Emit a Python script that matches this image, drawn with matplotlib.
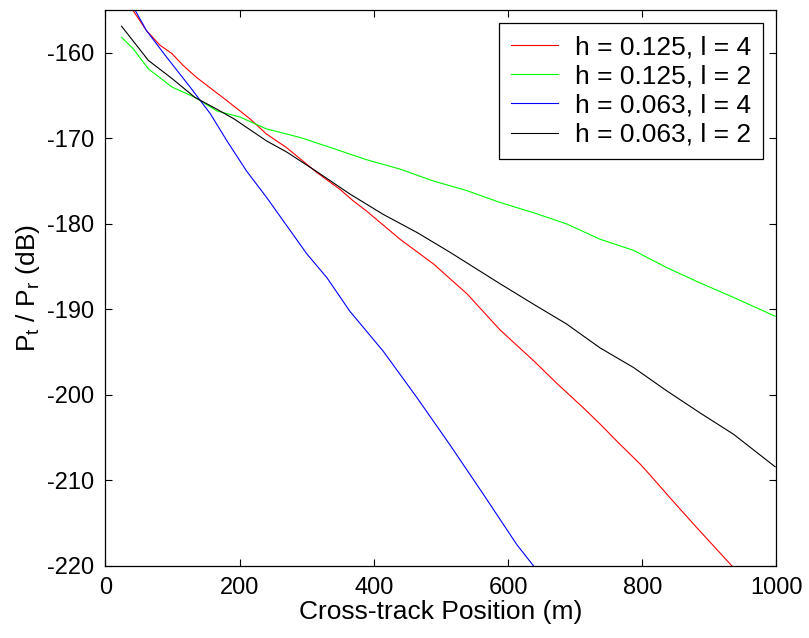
import matplotlib
matplotlib.use('Agg')
import matplotlib.pyplot as plt

plt.rcParams['font.family'] = ['Liberation Sans', 'DejaVu Sans']
plt.rcParams['mathtext.default'] = 'regular'
plt.rcParams['axes.unicode_minus'] = False

# values
red_x = [25, 41, 61, 81, 99, 116, 136, 161, 181, 215, 240, 270, 315, 350, 369, 389, 439, 489, 539, 588,
         638, 672, 712, 737, 762, 797, 812, 841, 881, 936]
red_y = [-153.1, -155.05, -157.4, -159.1, -160.1, -161.5, -162.9, -164.4, -165.6, -167.7, -169.5, -171.1,
         -174.0, -176.0, -177.3, -178.5, -181.8, -184.7, -188.2, -192.4, -196.0, -198.6, -201.5, -203.4,
         -205.4, -208.1, -209.4, -212.0, -215.5, -220.2]

green_x = [24, 41, 64, 81, 99, 133, 166, 200, 240, 290, 340, 389, 439, 489, 538, 588, 638, 687, 737,
           787, 836, 886, 936, 998]
green_y = [-158.2, -159.5, -161.9, -162.9, -164.0, -165.2, -166.8, -167.5, -168.9, -169.9, -171.2, -172.5,
           -173.6, -175.0, -176.1, -177.5, -178.7, -180.0, -181.8, -183.1, -185.1, -186.9, -188.6, -190.8]

blue_x = [25, 44, 61, 91, 126, 156, 181, 210, 240, 270, 300, 330, 364, 414, 464, 513, 563, 613, 640]
blue_y = [-152.4, -155.0, -157.4, -160.5, -164.0, -167.1, -170.3, -173.8, -176.9, -180.2, -183.5, -186.3,
          -190.2, -194.9, -200.3, -205.8, -211.6, -217.5, -220.2]

black_x = [24, 41, 64, 99, 133, 166, 191, 240, 270, 315, 364, 414, 464, 513, 588, 638, 687, 737, 787,
           836, 886, 936, 998]
black_y = [-156.9, -158.6, -160.9, -163.0, -165.2, -166.6, -167.7, -170.3, -171.6, -173.9, -176.5, -178.9,
           -181.0, -183.3, -187.0, -189.4, -191.7, -194.5, -196.8, -199.5, -202.1, -204.6, -208.4]

labels = ['h = 0.125, l = 4', 'h = 0.125, l = 2', 'h = 0.063, l = 4', 'h = 0.063, l = 2']
y_ticks = [-220, -210, -200, -190, -180, -170, -160]
x_ticks = [0, 200, 400, 600, 800, 1000]

fig = plt.figure(figsize=(8.09, 6.38), dpi=100)
ax = fig.add_axes([0.1304, 0.1129, 0.8294, 0.8714])

lw = 0.8
ax.plot(red_x, red_y, color='#ff0000', lw=lw, label=labels[0])
ax.plot(green_x, green_y, color='#00ff00', lw=lw, label=labels[1])
ax.plot(blue_x, blue_y, color='#0000ff', lw=lw, label=labels[2])
ax.plot(black_x, black_y, color='black', lw=lw, label=labels[3])

ax.set_xlim(0, 1000)
ax.set_ylim(-220, -155)
ax.set_xticks(x_ticks)
ax.set_yticks(y_ticks)
ax.tick_params(direction='in', length=5, width=0.8, top=True, right=True, labelsize=17, pad=8)
for s in ax.spines.values():
    s.set_linewidth(0.9)

ax.set_xlabel('Cross-track Position (m)', fontsize=19, labelpad=1)
ax.set_ylabel('P$_t$ / P$_r$ (dB)', fontsize=19, labelpad=4)

leg = ax.legend(loc='upper right', fontsize=19, frameon=True, fancybox=False, framealpha=1,
                edgecolor='black', borderaxespad=0.5, handlelength=1.8, handletextpad=0.65,
                labelspacing=0.2, borderpad=0.45)
leg.get_frame().set_linewidth(0.9)

fig.savefig('out.png', dpi=100)
